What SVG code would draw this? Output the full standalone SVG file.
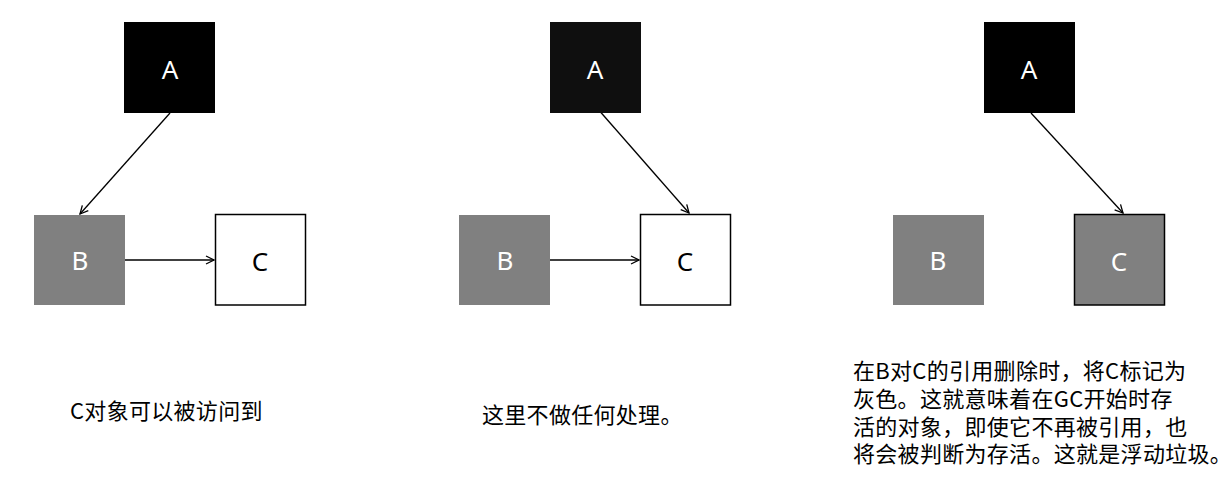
<svg xmlns="http://www.w3.org/2000/svg" width="1232" height="479" viewBox="0 0 1232 479">
<style>
.lbl{font-family:"Noto Sans","Open Sans",sans-serif;font-size:26px;text-anchor:middle}
.w{fill:#fff}.k{fill:#000}
.txt{font-family:"Noto Sans CJK SC","Noto Sans",sans-serif;font-size:22px;fill:#000;letter-spacing:0.3px}
.edge{stroke:#000;stroke-width:1.3;fill:none;marker-end:url(#arr)}
</style>
<defs>
<marker id="arr" viewBox="0 0 10 10" refX="9" refY="5" markerWidth="10" markerHeight="10" markerUnits="userSpaceOnUse" orient="auto">
<path d="M1,1 L9,5 L1,9" fill="none" stroke="#000" stroke-width="1.3"/>
</marker>
</defs>
<rect width="1232" height="479" fill="#fff"/>
<g id="connectors">
<line class="edge" x1="170" y1="113" x2="80" y2="214"/>
<line class="edge" x1="125" y1="260" x2="214" y2="260"/>
<line class="edge" x1="597" y1="108" x2="689" y2="213"/>
<line class="edge" x1="550" y1="260" x2="639" y2="260"/>
<line class="edge" x1="1031" y1="113" x2="1123" y2="213"/>
</g>
<g id="p1-A"><rect x="124" y="22" width="91" height="91" fill="#000"/><text class="lbl w" x="170" y="79">A</text></g>
<g id="p1-B"><rect x="34" y="215" width="91" height="90" fill="#808080"/><text class="lbl w" x="80" y="270">B</text></g>
<g id="p1-C"><rect x="215.5" y="214.5" width="90" height="90.5" fill="#fff" stroke="#000" stroke-width="1.5"/><text class="lbl k" x="260" y="271">C</text></g>
<g id="p2-A"><rect x="550" y="22" width="91" height="91" fill="#0f0f0f"/><text class="lbl w" x="595" y="79">A</text></g>
<g id="p2-B"><rect x="459" y="215" width="91" height="90" fill="#808080"/><text class="lbl w" x="505" y="270">B</text></g>
<g id="p2-C"><rect x="640.5" y="214.5" width="90" height="90.5" fill="#fff" stroke="#000" stroke-width="1.5"/><text class="lbl k" x="685" y="271">C</text></g>
<g id="p3-A"><rect x="984" y="22" width="91" height="91" fill="#000"/><text class="lbl w" x="1029" y="79">A</text></g>
<g id="p3-B"><rect x="893" y="215" width="91" height="90" fill="#808080"/><text class="lbl w" x="938" y="270">B</text></g>
<g id="p3-C"><rect x="1074.5" y="214.5" width="90" height="90.5" fill="#808080" stroke="#000" stroke-width="1.5"/><text class="lbl w" x="1119" y="271">C</text></g>
<g id="notes">
<text class="txt" x="70" y="419">C对象可以被访问到</text>
<text class="txt" x="482" y="423">这里不做任何处理。</text>
<text class="txt" x="853" y="379">在B对C的引用删除时，将C标记为</text>
<text class="txt" x="853" y="407">灰色。这就意味着在GC开始时存</text>
<text class="txt" x="853" y="435">活的对象，即使它不再被引用，也</text>
<text class="txt" x="853" y="462">将会被判断为存活。这就是浮动垃圾。</text>
</g>
</svg>
